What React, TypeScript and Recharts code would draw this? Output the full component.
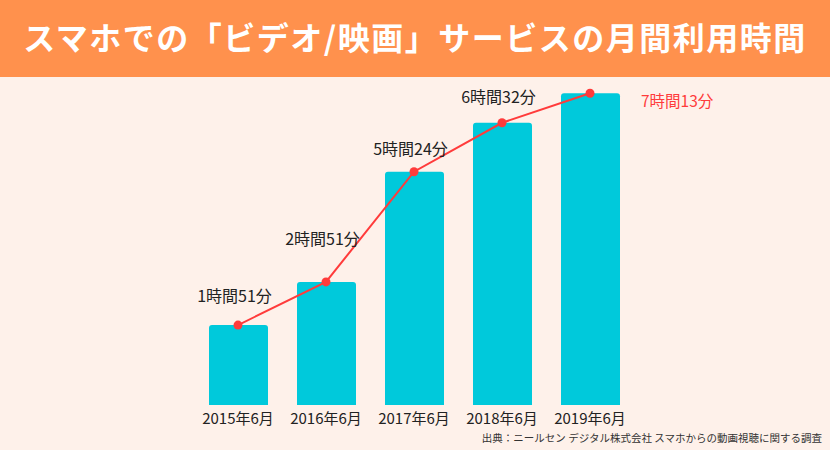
import React from "react";
import { ComposedChart, Bar, Line, XAxis, YAxis, LabelList } from "recharts";

const months = ["2015年6月", "2016年6月", "2017年6月", "2018年6月", "2019年6月"];
const minutes = [111, 171, 324, 392, 433];
const durationLabels = ["1時間51分", "2時間51分", "5時間24分", "6時間32分", "7時間13分"];

// how far above the bar top each label sits
const labelLift = [27, 41, 21, 24, 0];

const FONT = "'Noto Sans CJK JP', 'Noto Sans', sans-serif";

const data = months.map((m, i) => ({ month: m, minutes: minutes[i], label: durationLabels[i] }));

const DurationLabel = (props: any) => {
    const { x, y, width, index } = props;
    const text = durationLabels[index];
    if (index === durationLabels.length - 1) {
        return (
            <text x={x + width + 21} y={y + 10} fill="#FF3B3B" fontSize={15.5} fontFamily={FONT} dominantBaseline="middle">
                {text}
            </text>
        );
    }
    return (
        <text x={x + width / 2 - 4} y={y - labelLift[index]} fill="#222" fontSize={16} fontFamily={FONT} textAnchor="middle" dominantBaseline="middle">
            {text}
        </text>
    );
};

export default function App() {
    return (
        <div style={{ position: "absolute", top: 0, left: 0, width: 830, height: 450, background: "#FEF1EA", fontFamily: FONT, overflow: "hidden" }}>
            <div style={{ position: "absolute", top: 0, left: 0, width: 830, height: 77, background: "#FF914D", color: "#fff", fontSize: 32, fontWeight: 700, display: "flex", alignItems: "center", justifyContent: "center", letterSpacing: 1.5, paddingBottom: 6, boxSizing: "border-box" }}>
                スマホでの「ビデオ/映画」サービスの月間利用時間
            </div>
            <div style={{ position: "absolute", top: 0, left: 0 }}>
                <ComposedChart width={830} height={450} data={data} margin={{ top: 45, right: 196, bottom: 15, left: 194 }}>
                    <XAxis dataKey="month" axisLine={false} tickLine={false} height={30} tick={{ fill: "#222", fontSize: 15, fontFamily: FONT }} />
                    <YAxis hide domain={[0, 500]} />
                    <Bar dataKey="minutes" fill="#00C9DB" barSize={59} radius={[3, 3, 0, 0]} isAnimationActive={false}>
                        <LabelList dataKey="label" content={DurationLabel} />
                    </Bar>
                    <Line dataKey="minutes" stroke="#FF3B3B" strokeWidth={2} dot={{ r: 4.5, fill: "#FF3B3B", stroke: "none" }} isAnimationActive={false} />
                </ComposedChart>
            </div>
            <div style={{ position: "absolute", right: 8, top: 430, fontSize: 10.5, color: "#333", whiteSpace: "nowrap" }}>
                出典：ニールセン デジタル株式会社 スマホからの動画視聴に関する調査
            </div>
        </div>
    );
}
